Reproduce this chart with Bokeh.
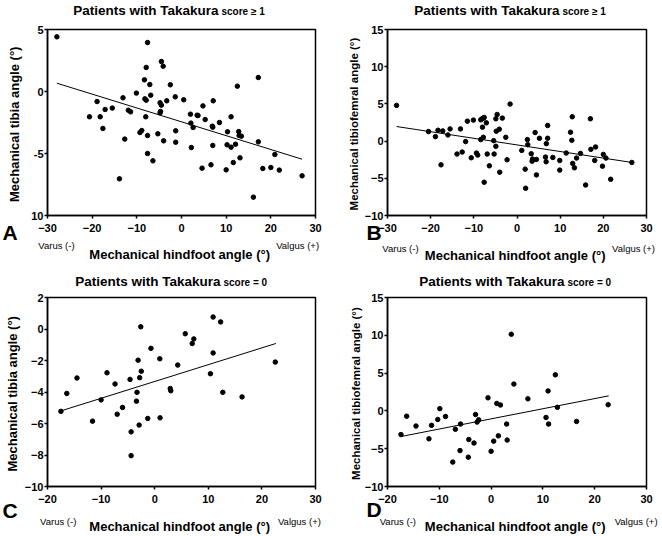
from bokeh.plotting import figure
from bokeh.models import Range1d, Label, FixedTicker, LinearAxis
from bokeh.layouts import gridplot
from bokeh.embed import file_html
from bokeh.resources import INLINE

FONT = "Liberation Sans"

# ---------------- data ----------------
# Panel A: hindfoot angle vs mechanical tibia angle, Takakura >= 1
a_x = [-27.9, -7.6, -4.5, -4.1, -7.9, 17.2, -8.3, -7.1, -2.5, 12.5,
       -6.9, -10.1, -8.2, -7.9, -13.1, -18.9, -4.8, -4.5, -3.3, -1.4,
       0.5, 7.1, -17.1, -15.5, -11.9, -11.4, -4.7, -4.8, 4.8, -20.6,
       -18.2, -8.0, 2.0, 3.5, 3.7, 5.3, 11.1, 2.1, 2.6, 8.5,
       6.9, 7.0, -17.6, -9.3, -8.9, -7.6, -5.3, -1.3, 10.3, 12.8,
       12.9, 13.4, -12.7, -4.0, -1.3, 7.0, 10.2, 11.1, 12.1, 2.2,
       17.2, -7.6, -6.4, 11.6, 13.1, 20.9, 4.6, 6.6, 10.0, 18.2,
       20.0, 21.9, 27.0, -13.9, 16.1]
a_y = [4.41, 3.95, 2.42, 2.04, 1.94, 1.13, 0.94, 0.56, 0.54, 0.43,
       -0.30, -0.13, -0.59, -0.70, -0.51, -0.81, -0.91, -1.10, -0.75, -0.43,
       -0.67, -0.75, -1.45, -1.34, -1.51, -1.64, -1.61, -1.72, -1.16, -2.04,
       -2.04, -2.04, -1.83, -1.91, -1.94, -2.26, -2.04, -2.55, -2.90, -2.50,
       -2.80, -2.88, -2.98, -3.31, -3.15, -3.55, -3.41, -3.17, -3.25, -3.23,
       -3.55, -3.60, -3.84, -3.98, -4.09, -4.35, -4.30, -4.49, -4.25, -4.52,
       -4.06, -5.00, -5.59, -5.73, -5.35, -5.08, -6.18, -5.91, -6.32, -6.21,
       -6.13, -6.34, -6.80, -7.04, -8.52]
a_fit_x = [-27.9, 27.0]
a_fit_y = [0.67, -5.46]

# Panel B: hindfoot angle vs mechanical tibiofemoral angle, Takakura >= 1
b_x = [-27.9, -20.5, -18.9, -18.3, -17.2, -16.0, -15.5, -17.6, -13.1, -13.9,
       -12.7, -11.9, -11.5, -10.1, -10.6, -9.4, -9.1, -8.4, -8.1, -7.75,
       -7.6, -8.0, -7.8, -8.4, -7.1, -7.6, -6.9, -6.4, -4.9, -4.6,
       -4.8, -4.1, -3.4, -5.4, -4.9, -5.3, -4.0, -2.6, -2.3, -1.6,
       1.1, 1.9, 2.0, 2.4, 2.5, 3.3, 3.6, 4.2, 4.5, 5.2,
       3.5, 4.5, 6.6, 6.8, 7.1, 7.1, 6.75, 8.3, 9.9, 9.9,
       11.4, 12.4, 12.7, 12.8, 12.9, 13.3, 13.8, 14.7, 15.9, 17.0,
       17.1, 18.0, 18.2, 19.8, 20.0, 20.6, 21.7, 26.6]
b_y = [4.80, 1.28, 0.60, 1.46, 1.37, 0.83, 1.64, -3.19, 1.64, -1.74,
       -1.47, -0.07, 2.68, 2.82, -2.24, -1.61, -1.88, 2.86, 3.00, 3.09,
       3.18, 1.87, 0.51, 0.20, 2.45, -5.53, -1.74, -3.32, 3.00, 3.58,
       1.33, 1.60, 3.09, 0.06, -0.70, -1.74, -4.18, 0.51, -2.51, 4.98,
       -1.25, -3.77, -6.34, 0.20, -0.48, -1.70, -2.42, 1.15, -2.46, 0.38,
       -2.70, -4.54, -2.15, -0.34, 2.10, 0.38, -2.78, -2.20, -2.60, -3.90,
       -1.60, 1.19, 0.11, 3.27, -3.00, -3.59, -2.28, -1.65, -5.90, 3.00,
       -1.11, -2.60, -0.79, -3.37, -1.79, -2.28, -5.13, -2.87]
b_fit_x = [-27.9, 26.6]
b_fit_y = [1.96, -2.87]

# Panel C: hindfoot angle vs mechanical tibia angle, Takakura = 0
c_x = [-17.5, -16.4, -14.5, -11.6, -10.0, -8.9, -7.4, -7.0, -6.0, -4.6,
       -4.4, -4.4, -3.3, -3.4, -3.1, -2.8, -2.5, -2.6, -2.9, -1.3,
       -0.7, 0.95, 1.0, 2.9, 3.0, 4.3, 5.7, 7.0, 7.3, 10.4,
       10.9, 10.9, 12.3, 12.7, 16.3, 22.5]
c_y = [-5.23, -4.09, -3.11, -5.85, -4.50, -2.78, -3.49, -5.41, -4.98, -3.20,
       -6.53, -8.04, -4.02, -4.58, -1.98, -3.09, -2.68, 0.14, -6.10, -5.68,
       -1.23, -1.89, -5.64, -3.78, -3.92, -2.29, -0.30, -0.92, -0.63, -2.84,
       0.76, -1.52, 0.45, -4.02, -4.31, -2.10]
c_fit_x = [-17.5, 22.6]
c_fit_y = [-5.20, -0.92]

# Panel D: hindfoot angle vs mechanical tibiofemoral angle, Takakura = 0
d_x = [-17.4, -16.3, -14.5, -12.0, -11.5, -10.3, -9.9, -8.8, -6.9, -7.4,
       -6.0, -5.9, -4.3, -4.4, -3.3, -3.0, -2.7, -2.4, -0.6, 0.0,
       0.5, 1.1, 1.4, 1.8, 3.0, 3.1, 3.9, 4.4, 7.1, 10.6,
       11.0, 11.1, 12.4, 12.8, 16.5, 22.6]
d_y = [-3.13, -0.70, -2.00, -3.69, -1.91, -1.13, 0.30, -0.74, -2.43, -6.77,
       -5.25, -1.74, -3.78, -6.12, -4.25, -0.48, -1.48, -1.18, 1.73, -5.34,
       -4.00, 0.99, -3.30, 0.78, -1.74, -3.86, 10.14, 3.55, 1.60, -0.87,
       2.64, -1.74, 4.77, 0.47, -1.39, 0.82]
d_fit_x = [-17.4, 22.7]
d_fit_y = [-3.39, 1.99]

x_ticks_wide = [-30, -20, -10, 0, 10, 20, 30]
x_ticks_narrow = [-20, -10, 0, 10, 20, 30]
a_y_ticks = [-10, -5, 0, 5]
a_y_tick_labels = {-10: "10", -5: "-5", 0: "0", 5: "5"}
bd_y_ticks = [-10, -5, 0, 5, 10, 15]
c_y_ticks = [-10, -8, -6, -4, -2, 0, 2]

title_main = "Patients with Takakura"
title_small_1 = "score \u2265 1"
title_small_0 = "score = 0"
x_label = "Mechanical  hindfoot angle (\u00b0)"
y_label_tibia = "Mechanical  tibia angle (\u00b0)"
y_label_tf = "Mechanical  tibiofemral angle (\u00b0)"
varus_text = "Varus (-)"
valgus_text = "Valgus (+)"


def side_label(p, side, cx, cy, text, size, align):
    # a text placed in a side panel (not clipped), at canvas pixels
    p.add_layout(Label(x=cx, y=cy, x_units="canvas", y_units="canvas",
                       text=text, text_font=FONT, text_font_size=size,
                       text_font_style="bold", text_color="black",
                       text_align=align, text_baseline="middle"), side)


def panel(ox, oy, W, H, frame, xr, yr, xticks, yticks, ylabels_over,
          xs, ys, fx, fy, small, split, title_y,
          ylabel, ylab_size, ylab_standoff, side_ticks, side_standoff,
          xlab_standoff, letter, letter_pos):
    fl, ft, fr, fb = frame
    p = figure(width=W, height=H,
               x_range=Range1d(*xr), y_range=Range1d(*yr),
               output_backend="svg", toolbar_location=None,
               min_border_left=round(fl - ox), min_border_top=round(ft - oy),
               min_border_right=round(ox + W - fr),
               min_border_bottom=round(oy + H - fb))
    p.background_fill_color = "white"
    p.border_fill_color = "white"
    p.outline_line_color = "black"
    p.outline_line_width = 1.5
    p.outline_line_alpha = 1.0
    p.xgrid.visible = False
    p.ygrid.visible = False
    for ax in (p.xaxis[0], p.yaxis[0]):
        ax.axis_line_width = 1.5
        ax.axis_line_color = "black"
        ax.major_tick_line_color = "black"
        ax.major_tick_line_width = 1.5
        ax.major_tick_out = 3
        ax.major_tick_in = 0
        ax.minor_tick_out = 0
        ax.minor_tick_in = 0
        ax.major_label_text_font = FONT
        ax.major_label_text_font_style = "bold"
        ax.major_label_text_font_size = "11px"
        ax.major_label_text_color = "black"
        ax.axis_label_text_font = FONT
        ax.axis_label_text_font_style = "bold"
        ax.axis_label_text_color = "black"
    p.xaxis.ticker = FixedTicker(ticks=xticks)
    p.yaxis.ticker = FixedTicker(ticks=yticks)
    p.xaxis.major_label_standoff = 5
    p.yaxis.major_label_standoff = 1
    if ylabels_over:
        p.yaxis.major_label_overrides = ylabels_over
    p.yaxis.axis_label = ylabel
    p.yaxis.axis_label_text_font_size = ylab_size
    p.yaxis.axis_label_standoff = ylab_standoff

    # second row under the x axis: "Varus (-)"  axis title  "Valgus (+)"
    side_axis = LinearAxis(
        ticker=FixedTicker(ticks=side_ticks),
        major_label_overrides={side_ticks[0]: varus_text,
                               side_ticks[1]: valgus_text},
        axis_line_color=None, major_tick_line_color=None,
        minor_tick_line_color=None, major_tick_out=0, major_tick_in=0,
        minor_tick_out=0, minor_tick_in=0,
        major_label_standoff=side_standoff,
        major_label_text_font=FONT, major_label_text_font_size="9.5px",
        major_label_text_font_style="normal", major_label_text_color="black",
        axis_label=x_label, axis_label_text_font=FONT,
        axis_label_text_font_size="13px", axis_label_text_font_style="bold",
        axis_label_text_color="black", axis_label_standoff=xlab_standoff)
    p.add_layout(side_axis, "below")

    p.line(fx, fy, line_color="black", line_width=1)
    p.scatter(xs, ys, size=4.5, fill_color="black", line_color="black")

    # title in two sizes, and the panel letter
    side_label(p, "above", split - 1.5 - ox, title_y - oy, title_main, "13.5px", "right")
    side_label(p, "above", split + 1.5 - ox, title_y + 1.2 - oy, small, "10px", "left")
    side_label(p, "right", letter_pos[0] - ox, letter_pos[1] - oy, letter, "21px", "left")
    return p


pa = panel(0, 0, 331, 268, (46.7, 29.3, 316, 216), (-30, 30), (-10, 5),
           x_ticks_wide, a_y_ticks, a_y_tick_labels, a_x, a_y, a_fit_x, a_fit_y,
           title_small_1, 219.5, 10, y_label_tibia, "13px", 6, [-28, 26], 5, -7,
           "A", (2, 231.5))
pb = panel(331, 0, 331, 268, (384.3, 29.3, 646, 215), (-30, 30), (-10, 15),
           x_ticks_wide, bd_y_ticks, None, b_x, b_y, b_fit_x, b_fit_y,
           title_small_1, 560.5, 10, y_label_tf, "11.5px", 2, [-27, 27], 8, -9,
           "B", (366, 232))
pc = panel(0, 268, 331, 268, (46.7, 297.3, 315, 489.7), (-20, 30), (-10, 2),
           x_ticks_narrow, c_y_ticks, None, c_x, c_y, c_fit_x, c_fit_y,
           title_small_0, 221.5, 281, y_label_tibia, "13px", 2, [-18, 27], 10, -11,
           "C", (2, 509.5))
pd_ = panel(331, 268, 331, 268, (387, 297.3, 647, 489.7), (-20, 30), (-10, 15),
            x_ticks_narrow, bd_y_ticks, None, d_x, d_y, d_fit_x, d_fit_y,
            title_small_0, 565.5, 281, y_label_tf, "11.5px", 0, [-18, 28], 10, -11,
            "D", (366, 508.5))

grid = gridplot([[pa, pb], [pc, pd_]], toolbar_location=None)

open("out.html", "w").write(file_html(grid, INLINE))
